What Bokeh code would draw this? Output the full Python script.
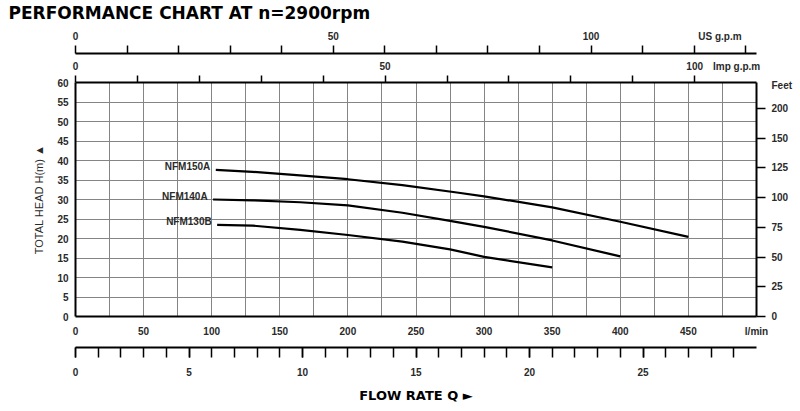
from bokeh.plotting import figure
from bokeh.models import LinearAxis, Range1d, FixedTicker, ColumnDataSource
from bokeh.embed import file_html
from bokeh.resources import INLINE
from bokeh.core.properties import value

# ---------------- data ----------------
title_text = "PERFORMANCE CHART AT n=2900rpm"

lmin_ticks = [0, 50, 100, 150, 200, 250, 300, 350, 400, 450]
head_ticks = [0, 5, 10, 15, 20, 25, 30, 35, 40, 45, 50, 55, 60]
feet_ticks = [0, 25, 50, 75, 100, 125, 150, 175]
feet_labels = ["0", "25", "50", "75", "100", "125", "150", "200"]
us_gpm_labels = [0, 50, 100]
imp_gpm_labels = [0, 50, 100]
m3h_labels = [0, 5, 10, 15, 20, 25]

series_names = ["NFM150A", "NFM140A", "NFM130B"]
q_150a = [103, 130, 160, 200, 240, 280, 300, 350, 400, 450]
h_150a = [37.6, 37.1, 36.3, 35.2, 33.7, 31.8, 30.8, 28.0, 24.3, 20.4]
q_140a = [101, 130, 165, 200, 240, 275, 300, 350, 400]
h_140a = [30.0, 29.8, 29.3, 28.5, 26.6, 24.5, 23.0, 19.5, 15.4]
q_130b = [104, 130, 165, 200, 240, 275, 300, 350]
h_130b = [23.5, 23.3, 22.2, 20.9, 19.2, 17.2, 15.3, 12.6]

# unit conversions
LPM_PER_USGPM = 3.78541
LPM_PER_IMPGPM = 4.54609
LPM_PER_M3H = 1000.0 / 60.0
M_PER_FT = 0.3048
Q_MAX = 500
H_MAX = 60

FONT = "Liberation Sans"
TXT = "#2a2a2a"
GRID = "#858585"

p = figure(width=800, height=411, x_range=Range1d(0, Q_MAX), y_range=Range1d(0, H_MAX),
           output_backend="svg", toolbar_location=None,
           min_border_left=75, min_border_right=44, min_border_top=82, min_border_bottom=95,
           outline_line_color=None, background_fill_color="white", border_fill_color="white")

p.extra_x_ranges = {
    "us": Range1d(0, Q_MAX / LPM_PER_USGPM),
    "imp": Range1d(0, Q_MAX / LPM_PER_IMPGPM),
    "m3h": Range1d(0, Q_MAX / LPM_PER_M3H),
}
p.extra_y_ranges = {"feet": Range1d(0, H_MAX / M_PER_FT)}

# title
p.title.text = title_text
p.title.align = "left"
p.title.offset = -67
p.title.standoff = 0
p.title.text_font = "DejaVu Sans"
p.title.text_font_style = "bold"
p.title.text_font_size = "17px"
p.title.text_color = "black"


def style(ax, size="10px"):
    ax.major_label_text_font = FONT
    ax.major_label_text_font_size = size
    ax.major_label_text_font_style = "bold"
    ax.major_label_text_color = TXT
    ax.axis_line_color = "black"
    ax.axis_line_width = 2
    ax.major_tick_line_color = "black"
    ax.minor_tick_line_color = "black"
    ax.major_tick_line_width = 1.5
    ax.minor_tick_line_width = 1.5
    ax.major_tick_in = 0
    ax.minor_tick_in = 0


def spacer(ax, standoff):
    # an invisible one-space axis label that only adds room between stacked axes
    ax.axis_label = " "
    ax.axis_label_text_font_size = "3px"
    ax.axis_label_standoff = standoff


# bottom l/min axis
xa = p.xaxis[0]
style(xa)
xa.ticker = FixedTicker(ticks=lmin_ticks + [Q_MAX])
xa.major_label_overrides = {Q_MAX: "l/min"}
xa.major_tick_out = 0
xa.minor_tick_out = 0
xa.major_label_standoff = 9
xa.axis_label = " "
xa.axis_label_text_font_size = "4px"
xa.axis_label_standoff = 0

# m3/h axis
m3 = LinearAxis(x_range_name="m3h")
style(m3)
m3.ticker = FixedTicker(ticks=m3h_labels + [30], minor_ticks=list(range(0, 31)))
m3.major_label_overrides = {30: "m³/h"}
m3.major_tick_out = 10
m3.minor_tick_out = 10
m3.major_label_standoff = 10
m3.axis_label = "FLOW RATE Q ►"
m3.axis_label_text_font = "DejaVu Sans"
m3.axis_label_text_font_style = "bold"
m3.axis_label_text_font_size = "13px"
m3.axis_label_text_color = "black"
m3.axis_label_standoff = 9
p.add_layout(m3, "below")

# left axis
ya = p.yaxis[0]
style(ya)
ya.ticker = FixedTicker(ticks=head_ticks)
ya.major_tick_out = 0
ya.minor_tick_out = 0
ya.major_label_standoff = 7
ya.axis_label = "TOTAL HEAD H(m) ▲"
ya.axis_label_text_font = FONT
ya.axis_label_text_font_style = "normal"
ya.axis_label_text_font_size = "11px"
ya.axis_label_text_color = TXT
ya.axis_label_standoff = 9

# right feet axis (tick marks = minor ticks; "Feet" rides on an unmarked major tick)
FEET_TOP = 194
fa = LinearAxis(y_range_name="feet")
style(fa)
fa.ticker = FixedTicker(ticks=feet_ticks + [FEET_TOP], minor_ticks=feet_ticks)
overrides = {t: l for t, l in zip(feet_ticks, feet_labels)}
overrides[FEET_TOP] = "Feet"
fa.major_label_overrides = overrides
fa.major_tick_out = 9
fa.major_tick_line_color = None
fa.minor_tick_out = 9
fa.major_label_standoff = 6
p.add_layout(fa, "right")

# Imp g.p.m axis (closest to the frame on top)
IMP_UNIT_AT = 107
ia = LinearAxis(x_range_name="imp")
style(ia)
ia.ticker = FixedTicker(ticks=imp_gpm_labels + [IMP_UNIT_AT], minor_ticks=list(range(0, 101, 10)))
ia.major_label_overrides = {IMP_UNIT_AT: "Imp  g.p.m"}
ia.major_tick_out = 7
ia.major_tick_line_color = None
ia.minor_tick_out = 7
ia.major_label_standoff = 4
spacer(ia, -2)
p.add_layout(ia, "above")

# US g.p.m axis
US_UNIT_AT = 125
ua = LinearAxis(x_range_name="us")
style(ua)
ua.ticker = FixedTicker(ticks=us_gpm_labels + [US_UNIT_AT], minor_ticks=list(range(0, 131, 10)))
ua.major_label_overrides = {US_UNIT_AT: "US g.p.m"}
ua.major_tick_out = 8
ua.major_tick_line_color = None
ua.minor_tick_out = 8
ua.major_label_standoff = 4
spacer(ua, -1)
p.add_layout(ua, "above")

# grids
p.xgrid.ticker = FixedTicker(ticks=list(range(0, Q_MAX + 1, 25)))
p.ygrid.ticker = FixedTicker(ticks=head_ticks)
for g in (p.xgrid[0], p.ygrid[0]):
    g.grid_line_color = GRID
    g.grid_line_width = 1
    g.grid_line_alpha = 1

# curves
curves = [(q_150a, h_150a), (q_140a, h_140a), (q_130b, h_130b)]
for q, h in curves:
    p.line(q, h, line_color="black", line_width=2.2)

name_src = ColumnDataSource(dict(
    x=[q[0] - 4 for q, h in curves],
    y=[h[0] + 0.85 for q, h in curves],
    t=series_names,
))
p.text(x="x", y="y", text="t", source=name_src, text_align="right", text_baseline="middle",
       text_font=value(FONT), text_font_size="10px", text_font_style="bold", text_color=TXT)

open("out.html", "w").write(file_html(p, INLINE))
